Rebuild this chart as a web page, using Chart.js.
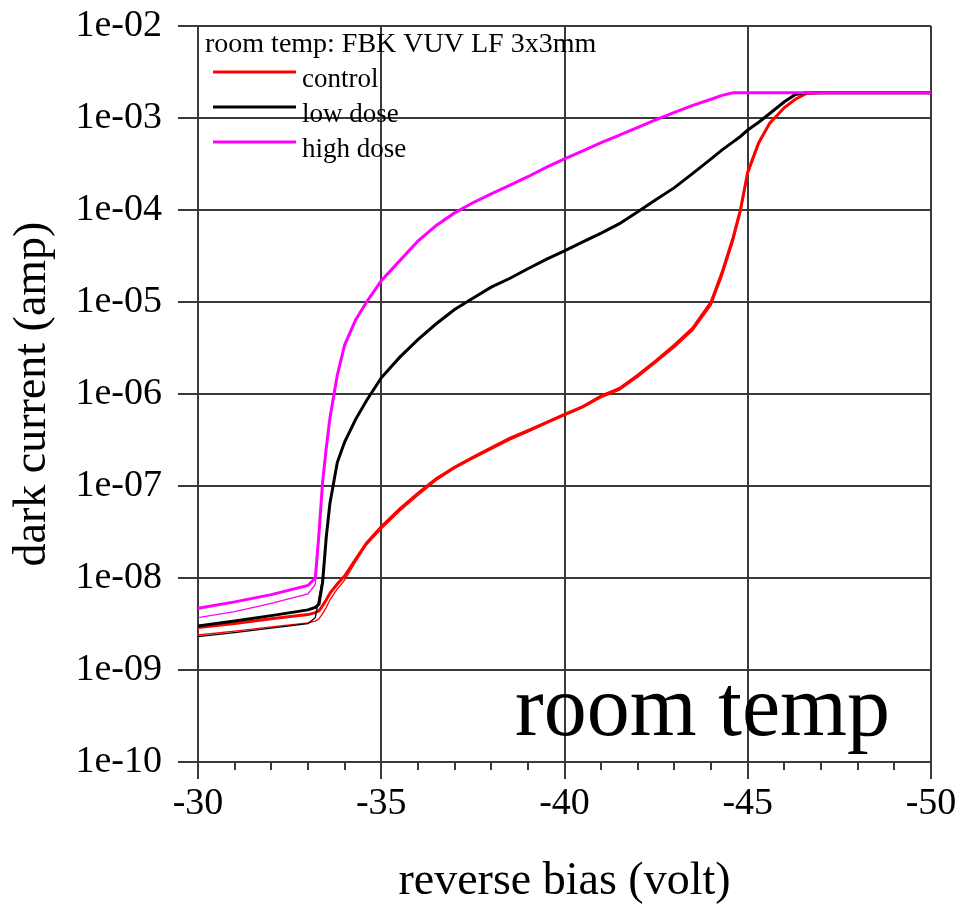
<!DOCTYPE html>
<html>
<head>
<meta charset="utf-8">
<title>dark current vs reverse bias</title>
<script src="https://cdn.jsdelivr.net/npm/chart.js@4.4.1/dist/chart.umd.min.js"></script>
<style>
  html, body { margin: 0; padding: 0; background: #fff; }
  #wrap { width: 960px; height: 907px; position: relative; }
</style>
</head>
<body>
<div id="wrap"><canvas id="ivChart"></canvas></div>
<script>
// reverse bias (volt), shared by all traces
const bias = [-30, -31, -32, -33, -33.2, -33.3, -33.4, -33.5, -33.6, -33.8, -34, -34.3, -34.6, -35, -35.5,
    -36, -36.5, -37, -37.5, -38, -38.5, -39, -39.5, -40, -40.5, -41, -41.5, -42, -42.5, -43, -43.5,
    -44, -44.3, -44.6, -44.8, -45, -45.3, -45.6, -46, -46.3, -46.6, -47, -48, -49, -50];

// dark current (amp) - two devices per dose, thick = first, thin = second
const controlA = [2.9e-9, 3.2e-9, 3.6e-9, 4.0e-9, 4.2e-9, 4.4e-9, 5.0e-9, 5.8e-9, 6.8e-9, 8.6e-9, 1.05e-8, 1.6e-8, 2.4e-8, 3.6e-8, 5.6e-8,
    8.3e-8, 1.2e-7, 1.6e-7, 2.05e-7, 2.6e-7, 3.3e-7, 4.0e-7, 4.9e-7, 6.0e-7, 7.3e-7, 9.5e-7, 1.15e-6, 1.6e-6, 2.3e-6, 3.4e-6, 5.2e-6,
    1.0e-5, 2.1e-5, 5.0e-5, 1.0e-4, 2.6e-4, 5.4e-4, 8.8e-4, 1.3e-3, 1.6e-3, 1.85e-3, 1.88e-3, 1.88e-3, 1.88e-3, 1.88e-3];
const controlB = [2.4e-9, 2.65e-9, 2.95e-9, 3.25e-9, 3.4e-9, 3.6e-9, 4.1e-9, 4.8e-9, 5.8e-9, 7.6e-9, 9.5e-9, 1.5e-8, 2.3e-8, 3.4e-8, 5.3e-8,
    7.9e-8, 1.15e-7, 1.55e-7, 1.98e-7, 2.5e-7, 3.15e-7, 3.85e-7, 4.75e-7, 5.8e-7, 7.1e-7, 9.1e-7, 1.1e-6, 1.52e-6, 2.2e-6, 3.2e-6, 4.9e-6,
    9.2e-6, 1.9e-5, 4.5e-5, 9.2e-5, 2.4e-4, 5.2e-4, 8.6e-4, 1.28e-3, 1.6e-3, 1.85e-3, 1.88e-3, 1.88e-3, 1.88e-3, 1.88e-3];
const lowDoseA = [3.0e-9, 3.4e-9, 3.9e-9, 4.5e-9, 4.8e-9, 5.2e-9, 9.0e-9, 2.8e-8, 6.5e-8, 1.8e-7, 3.0e-7, 5.3e-7, 8.5e-7, 1.5e-6, 2.5e-6,
    3.9e-6, 5.8e-6, 8.3e-6, 1.1e-5, 1.45e-5, 1.8e-5, 2.3e-5, 2.9e-5, 3.6e-5, 4.5e-5, 5.6e-5, 7.1e-5, 9.6e-5, 1.3e-4, 1.75e-4, 2.5e-4,
    3.6e-4, 4.5e-4, 5.5e-4, 6.3e-4, 7.4e-4, 9.0e-4, 1.12e-3, 1.5e-3, 1.8e-3, 1.88e-3, 1.88e-3, 1.88e-3, 1.88e-3, 1.88e-3];
const lowDoseB = [2.3e-9, 2.55e-9, 2.85e-9, 3.2e-9, 3.7e-9, 6.0e-9, 1.0e-8, 2.7e-8, 6.3e-8, 1.75e-7, 2.95e-7, 5.2e-7, 8.4e-7, 1.48e-6, 2.48e-6,
    3.88e-6, 5.75e-6, 8.2e-6, 1.09e-5, 1.44e-5, 1.79e-5, 2.28e-5, 2.88e-5, 3.58e-5, 4.48e-5, 5.57e-5, 7.06e-5, 9.55e-5, 1.29e-4, 1.74e-4, 2.49e-4,
    3.58e-4, 4.48e-4, 5.48e-4, 6.28e-4, 7.38e-4, 8.98e-4, 1.12e-3, 1.5e-3, 1.8e-3, 1.88e-3, 1.88e-3, 1.88e-3, 1.88e-3, 1.88e-3];
const highDoseA = [4.7e-9, 5.5e-9, 6.6e-9, 8.3e-9, 1.0e-8, 3.0e-8, 1.1e-7, 2.6e-7, 5.5e-7, 1.6e-6, 3.4e-6, 6.4e-6, 1.0e-5, 1.7e-5, 2.8e-5,
    4.6e-5, 6.8e-5, 9.3e-5, 1.2e-4, 1.5e-4, 1.85e-4, 2.3e-4, 2.9e-4, 3.6e-4, 4.4e-4, 5.4e-4, 6.5e-4, 7.9e-4, 9.6e-4, 1.15e-3, 1.37e-3,
    1.6e-3, 1.76e-3, 1.88e-3, 1.88e-3, 1.88e-3, 1.88e-3, 1.88e-3, 1.88e-3, 1.88e-3, 1.88e-3, 1.88e-3, 1.88e-3, 1.88e-3, 1.88e-3];
const highDoseB = [3.7e-9, 4.3e-9, 5.3e-9, 6.7e-9, 8.5e-9, 2.8e-8, 1.05e-7, 2.5e-7, 5.3e-7, 1.55e-6, 3.3e-6, 6.2e-6, 9.8e-6, 1.68e-5, 2.75e-5,
    4.5e-5, 6.7e-5, 9.2e-5, 1.19e-4, 1.49e-4, 1.84e-4, 2.28e-4, 2.88e-4, 3.58e-4, 4.38e-4, 5.38e-4, 6.48e-4, 7.87e-4, 9.55e-4, 1.14e-3, 1.36e-3,
    1.59e-3, 1.75e-3, 1.88e-3, 1.88e-3, 1.88e-3, 1.88e-3, 1.88e-3, 1.88e-3, 1.88e-3, 1.88e-3, 1.88e-3, 1.88e-3, 1.88e-3, 1.88e-3];

const xTicks = [-30, -35, -40, -45, -50];
const yTicks = [1e-10, 1e-9, 1e-8, 1e-7, 1e-6, 1e-5, 1e-4, 1e-3, 1e-2];
const legendTitle = 'room temp: FBK VUV LF 3x3mm';
const bigLabel = 'room temp';

const SERIF = "'Liberation Serif', 'Times New Roman', serif";
const GRID = '#3a3a3a';

function pts(arr) {
    return bias.map((v, i) => ({ x: v, y: arr[i] }));
}

function sciLabel(v) {
    const e = Math.round(Math.log10(v));
    const a = Math.abs(e);
    return '1e' + (e < 0 ? '-' : '+') + (a < 10 ? '0' + a : a);
}

// minor ticks every volt on the x axis
const minorTicks = {
    id: 'minorTicks',
    afterDraw(chart) {
        const x = chart.scales.x;
        const ctx = chart.ctx;
        const bottom = chart.chartArea.bottom;
        ctx.save();
        ctx.strokeStyle = GRID;
        ctx.lineWidth = 2;
        for (let v = -49; v <= -31; v++) {
            if (v % 5 === 0) continue;
            const px = Math.round(x.getPixelForValue(v));
            ctx.beginPath();
            ctx.moveTo(px, bottom);
            ctx.lineTo(px, bottom + 8);
            ctx.stroke();
        }
        ctx.restore();
    }
};

// legend box + big label inside the plot
const plotText = {
    id: 'plotText',
    afterDatasetsDraw(chart) {
        const ctx = chart.ctx;
        const area = chart.chartArea;
        ctx.save();
        ctx.fillStyle = '#000';
        ctx.textBaseline = 'middle';
        ctx.textAlign = 'left';
        ctx.font = '28px ' + SERIF;
        ctx.fillText(legendTitle, area.left + 7, area.top + 19);

        ctx.font = '27px ' + SERIF;
        const rows = chart.data.datasets.filter(d => d.showInLegend);
        rows.forEach((d, i) => {
            const ly = area.top + 46 + i * 35;
            ctx.strokeStyle = d.borderColor;
            ctx.lineWidth = 3;
            ctx.beginPath();
            ctx.moveTo(area.left + 15, ly);
            ctx.lineTo(area.left + 98, ly);
            ctx.stroke();
            ctx.fillText(d.label, area.left + 104, ly + 8);
        });

        ctx.textBaseline = 'alphabetic';
        ctx.font = '86px ' + SERIF;
        ctx.fillText(bigLabel, area.right - 416, area.bottom - 27);
        ctx.restore();
    }
};

new Chart(document.getElementById('ivChart'), {
    type: 'line',
    data: {
        // legend order: control, low dose, high dose; high dose drawn on top via order
        datasets: [
            { label: 'control', data: pts(controlA), borderColor: '#ff0000', borderWidth: 3, order: 4, showInLegend: true },
            { label: 'control 2', data: pts(controlB), borderColor: '#ff0000', borderWidth: 1.3, order: 5 },
            { label: 'low dose', data: pts(lowDoseA), borderColor: '#000000', borderWidth: 3, order: 2, showInLegend: true },
            { label: 'low dose 2', data: pts(lowDoseB), borderColor: '#000000', borderWidth: 1.3, order: 3 },
            { label: 'high dose', data: pts(highDoseA), borderColor: '#ff00ff', borderWidth: 3, order: 0, showInLegend: true },
            { label: 'high dose 2', data: pts(highDoseB), borderColor: '#ff00ff', borderWidth: 1.3, order: 1 }
        ]
    },
    options: {
        responsive: true,
        maintainAspectRatio: false,
        animation: false,
        layout: {
            padding: { top: 26, right: 29, left: 0, bottom: 0 }
        },
        elements: {
            point: { radius: 0 },
            line: { tension: 0, fill: false }
        },
        plugins: {
            legend: { display: false },
            tooltip: { enabled: false }
        },
        scales: {
            x: {
                type: 'linear',
                position: 'bottom',
                min: -50,
                max: -30,
                reverse: true,
                afterBuildTicks(scale) {
                    scale.ticks = xTicks.map(v => ({ value: v }));
                },
                afterFit(scale) {
                    scale.height = 145;
                },
                ticks: {
                    color: '#000',
                    padding: 2,
                    font: { family: SERIF, size: 38, lineHeight: 1.2 },
                    callback: v => String(v)
                },
                grid: {
                    color: GRID,
                    lineWidth: 2,
                    tickLength: 17,
                    tickColor: GRID
                },
                border: { display: true, color: GRID, width: 2 },
                title: {
                    display: true,
                    text: 'reverse bias (volt)',
                    color: '#000',
                    font: { family: SERIF, size: 46, lineHeight: 1.1 },
                    padding: { top: 0, bottom: 0 }
                }
            },
            y: {
                type: 'logarithmic',
                min: 1e-10,
                max: 1e-2,
                afterBuildTicks(scale) {
                    scale.ticks = yTicks.map(v => ({ value: v }));
                },
                afterFit(scale) {
                    scale.width = 198;
                },
                ticks: {
                    color: '#000',
                    padding: 16,
                    font: { family: SERIF, size: 38, lineHeight: 0.5 },
                    callback: v => sciLabel(v)
                },
                grid: {
                    color: GRID,
                    lineWidth: 2,
                    tickLength: 20,
                    tickColor: GRID
                },
                border: { display: true, color: GRID, width: 2 },
                title: {
                    display: true,
                    text: 'dark current (amp)',
                    color: '#000',
                    font: { family: SERIF, size: 46, lineHeight: 1.1 },
                    padding: { top: 8, bottom: 0 }
                }
            }
        }
    },
    plugins: [minorTicks, plotText]
});
</script>
</body>
</html>
